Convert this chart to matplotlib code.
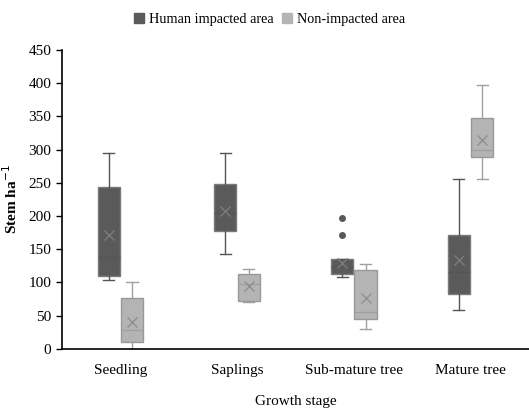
import matplotlib.pyplot as plt
from matplotlib.patches import Patch

plt.rcParams['font.family'] = ['Liberation Serif', 'DejaVu Serif']

# Datos (cajas: bigote inferior, Q1, mediana, Q3, bigote superior, media)
categorias = ['Seedling', 'Saplings', 'Sub-mature tree', 'Mature tree']

human_lo = [103, 143, 108, 58]
human_q1 = [110, 178, 112, 82]
human_med = [138, 204, 123, 115]
human_q3 = [244, 248, 136, 172]
human_hi = [295, 295, 136, 256]
human_mean = [171, 208, 129, 134]
human_fliers = [[], [], [171, 197], []]

non_lo = [0, 71, 30, 256]
non_q1 = [10, 72, 45, 289]
non_med = [28, 97, 56, 299]
non_q3 = [76, 113, 118, 348]
non_hi = [100, 120, 127, 397]
non_mean = [41, 95, 76, 315]
non_fliers = [[], [], [], []]


def armar_stats(lo, q1, med, q3, hi, mean, fliers):
    stats = []
    for i in range(len(lo)):
        stats.append({'whislo': lo[i], 'q1': q1[i], 'med': med[i], 'q3': q3[i],
                      'whishi': hi[i], 'mean': mean[i], 'fliers': fliers[i]})
    return stats


def dibujar(ax, stats, posiciones, relleno, borde, linea, media):
    ax.bxp(stats, positions=posiciones, widths=0.19, patch_artist=True,
           showmeans=True, showfliers=True,
           boxprops=dict(facecolor=relleno, edgecolor=borde, linewidth=1.0),
           medianprops=dict(color=linea, linewidth=1.0),
           whiskerprops=dict(color=linea, linewidth=1.0),
           capprops=dict(color=linea, linewidth=1.0),
           meanprops=dict(marker='x', markeredgecolor=media, markersize=7, markeredgewidth=0.9),
           flierprops=dict(marker='o', markerfacecolor='#595959', markeredgecolor='#595959', markersize=4))


fig = plt.figure(figsize=(5.29, 4.09), dpi=100)
ax = fig.add_axes([0.117, 0.147, 0.883, 0.731])

centros = [i + 0.5 for i in range(len(categorias))]
dibujar(ax, armar_stats(human_lo, human_q1, human_med, human_q3, human_hi, human_mean, human_fliers),
        [c - 0.1 for c in centros], '#5a5a5a', '#7a7a7a', '#555555', '#7f7f7f')
dibujar(ax, armar_stats(non_lo, non_q1, non_med, non_q3, non_hi, non_mean, non_fliers),
        [c + 0.1 for c in centros], '#b4b4b4', '#999999', '#a0a0a0', '#8c8c8c')

ax.set_xlim(0, 4)
ax.set_ylim(0, 450)
ax.set_yticks(range(0, 451, 50))
ax.set_xticks(centros)
ax.set_xticklabels(categorias, fontsize=11)
ax.tick_params(axis='x', length=0, pad=11)
ax.tick_params(axis='y', labelsize=11, length=4, width=1)
for lado in ['top', 'right']:
    ax.spines[lado].set_visible(False)
ax.spines['left'].set_linewidth(1.2)
ax.spines['bottom'].set_linewidth(1.2)

ax.set_ylabel('Stem ha$^{-1}$', fontsize=11, fontweight='bold', labelpad=6)
ax.set_xlabel('Growth stage', fontsize=11, labelpad=13)

leyenda = [Patch(facecolor='#5a5a5a', edgecolor='#5a5a5a', label='Human impacted area'),
           Patch(facecolor='#b4b4b4', edgecolor='#b4b4b4', label='Non-impacted area')]
fig.legend(handles=leyenda, loc='upper center', bbox_to_anchor=(0.51, 1.0), ncol=2,
           frameon=False, fontsize=10.3, handlelength=0.7, handleheight=0.7,
           handletextpad=0.35, columnspacing=0.6)

fig.savefig('out.png', dpi=100)
